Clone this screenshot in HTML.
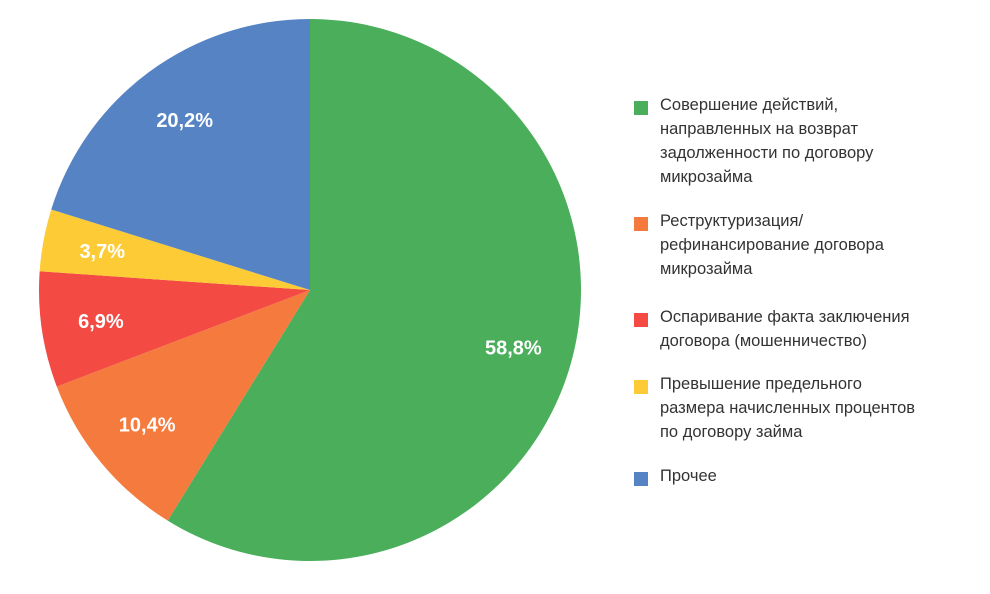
<!DOCTYPE html>
<html><head><meta charset="utf-8"><style>
body{margin:0;background:#fff;width:990px;height:594px;overflow:hidden;font-family:"Liberation Sans",sans-serif;}
.leg{position:absolute;left:634px;font-size:16.5px;color:#333;line-height:24px;}
.leg .sw{position:absolute;left:0;top:5px;width:14px;height:14px;}
.leg .tx{position:absolute;left:26px;top:-3px;white-space:nowrap;}
</style></head><body>
<svg id="chart" width="990" height="594" style="position:absolute;left:0;top:0"></svg>
<div id="legend"></div>
<script>
const categories=["Совершение действий,<br>направленных на возврат<br>задолженности по договору<br>микрозайма","Реструктуризация/<br>рефинансирование договора<br>микрозайма","Оспаривание факта заключения<br>договора (мошенничество)","Превышение предельного<br>размера начисленных процентов<br>по договору займа","Прочее"];
const values=[58.8,10.4,6.9,3.7,20.2];
const valueLabels=["58,8%","10,4%","6,9%","3,7%","20,2%"];
const colors=["#4aae5b","#f47a3e","#f34b43","#fdcb35","#5683c4"];
const legendTops=[96,212,308,375,467];
const svg=document.getElementById('chart');
const NS='http://www.w3.org/2000/svg';
const cx=310,cy=290,R=271;
const total=values.reduce((a,b)=>a+b,0);
let acc=0;
function pt(a,r){return [cx+r*Math.sin(a),cy-r*Math.cos(a)];}
values.forEach((v,i)=>{
  const a0=acc/total*2*Math.PI; acc+=v; const a1=acc/total*2*Math.PI;
  const p0=pt(a0,R),p1=pt(a1,R);
  const large=(a1-a0)>Math.PI?1:0;
  const path=document.createElementNS(NS,'path');
  path.setAttribute('d',`M${cx},${cy}L${p0[0]},${p0[1]}A${R},${R} 0 ${large} 1 ${p1[0]},${p1[1]}Z`);
  path.setAttribute('fill',colors[i]);
  
  
  svg.appendChild(path);
  const m=pt((a0+a1)/2,R*0.78);
  const t=document.createElementNS(NS,'text');
  t.setAttribute('x',m[0]);t.setAttribute('y',m[1]+7);
  t.setAttribute('text-anchor','middle');t.setAttribute('fill','#fff');
  t.setAttribute('font-size','20');t.setAttribute('font-weight','bold');
  t.setAttribute('font-family','Liberation Sans, sans-serif');
  t.textContent=valueLabels[i];
  
  
  svg.appendChild(t);
});
const leg=document.getElementById('legend');
categories.forEach((c,i)=>{
  const d=document.createElement('div');
  d.className='leg';d.style.top=legendTops[i]+'px';
  
  
  d.innerHTML=`<div class="sw" style="background:${colors[i]}"></div><div class="tx">${c}</div>`;
  leg.appendChild(d);
});
</script>
</body></html>
